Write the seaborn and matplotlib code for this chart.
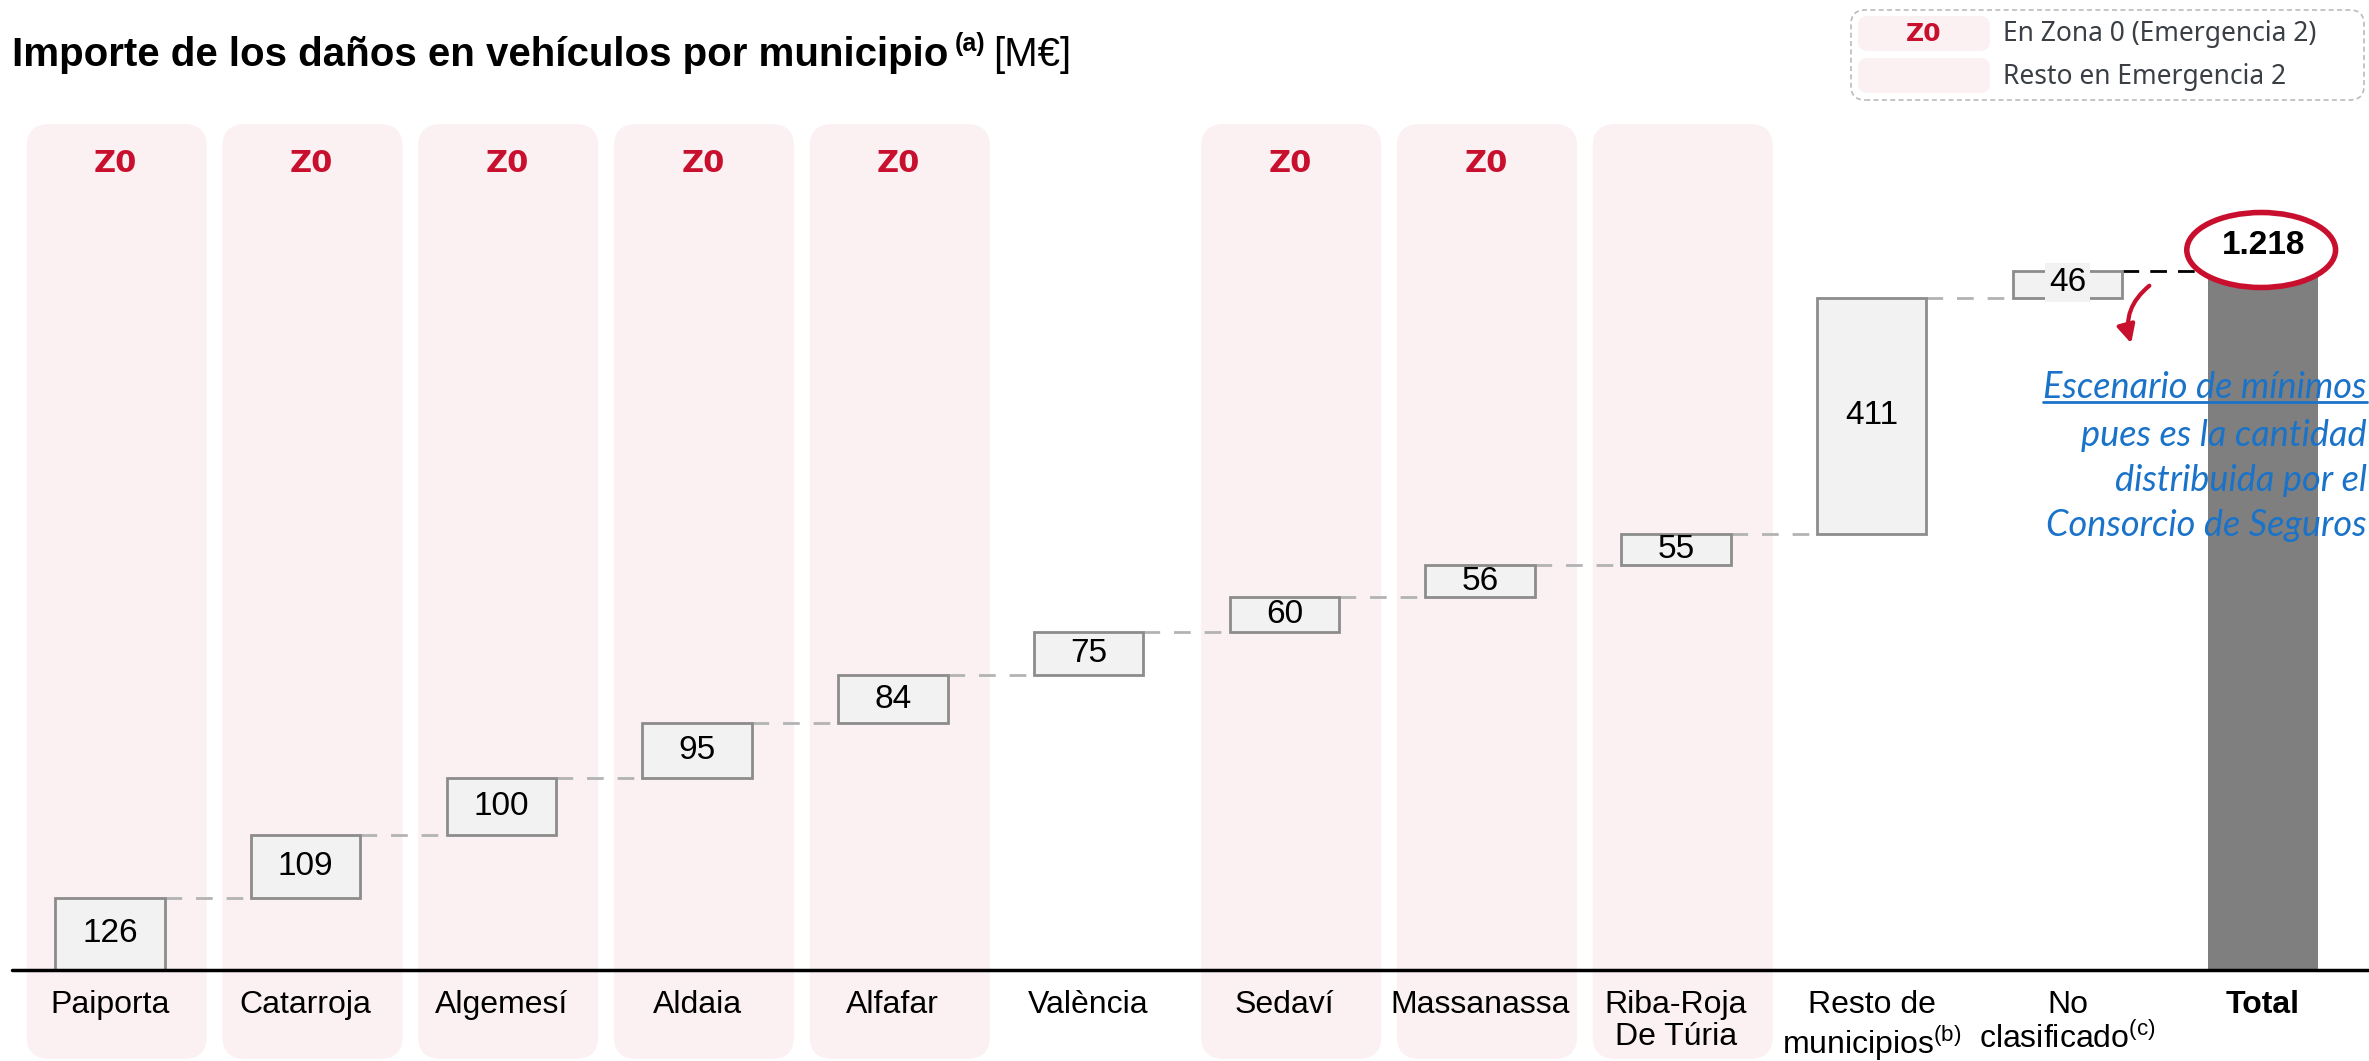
import matplotlib
matplotlib.use("Agg")
import matplotlib.pyplot as plt
import seaborn as sns
import numpy as np
import pandas as pd
from matplotlib import font_manager as fm
from matplotlib.patches import FancyBboxPatch, Ellipse

# --- data ---
categories = ['Paiporta', 'Catarroja', 'Algemesí', 'Aldaia', 'Alfafar', 'València',
              'Sedaví', 'Massanassa', 'Riba-Roja\nDe Túria', 'Resto de\nmunicipios',
              'No\nclasificado', 'Total']
tick_labels = ['Paiporta', 'Catarroja', 'Algemesí', 'Aldaia', 'Alfafar', 'València',
               'Sedaví', 'Massanassa', 'Riba-Roja\nDe Túria',
               'Resto de\nmunicipios$^{\\rm (b)}$', 'No\nclasificado$^{\\rm (c)}$', 'Total']
values = [126, 109, 100, 95, 84, 75, 60, 56, 55, 411, 46]
total = 1218
total_label = '1.218'
zona0 = [1, 1, 1, 1, 1, 0, 1, 1, 0, 0, 0, 0]
emergencia2 = [1, 1, 1, 1, 1, 0, 1, 1, 1, 0, 0, 0]
note_lines = ['Escenario de mínimos', 'pues es la cantidad', 'distribuida por el', 'Consorcio de Seguros']

# --- fonts ---
names = {f.name for f in fm.fontManager.ttflist}
NARROW = 'Liberation Sans Narrow' if 'Liberation Sans Narrow' in names else 'Liberation Sans'
SANS = 'Noto Sans'
BOLDSANS = 'DejaVu Sans'

sns.set_theme(style='white')
plt.rcParams['font.family'] = [NARROW, 'DejaVu Sans']
plt.rcParams['text.color'] = 'black'
plt.rcParams['mathtext.fontset'] = 'custom'
plt.rcParams['mathtext.rm'] = NARROW
plt.rcParams['mathtext.bf'] = NARROW + ':bold'

RED = '#C8102E'
PINK = '#FBF0F2'
BOXFACE = '#F2F2F2'
BOXEDGE = '#8C8C8C'
W, H = 2369, 1061
BASE = 970      # baseline pixel row
ppu = 0.574     # pixels per unit


def yd(py):
    # pixel row -> data y
    return (BASE - py) / ppu


# waterfall geometry
cum = np.cumsum(values)
bottoms = list(np.concatenate([[0], cum[:-1]])) + [0]
heights = values + [total]
df = pd.DataFrame({'cat': categories, 'h': heights, 'b': bottoms})

fig = plt.figure(figsize=(W / 100, H / 100), dpi=100)
ax = fig.add_axes([12 / W, 0, (2361 - 12) / W, 1])
ylim = (yd(H), yd(0))
ry = 22 / ppu / 0.12  # aspect for rounded corners

# background panels
for i, e in enumerate(emergencia2):
    if e:
        p = FancyBboxPatch((i - 0.425, yd(1059)), 0.92, yd(124) - yd(1059),
                           boxstyle='round,pad=0,rounding_size=0.12',
                           mutation_aspect=ry, facecolor=PINK, edgecolor='none',
                           zorder=0, clip_on=False)
        ax.add_patch(p)
    if zona0[i]:
        ax.text(i + 0.03, yd(164), 'Z0', ha='center', va='center', color=RED, fontsize=22,
                fontweight='bold', family=BOLDSANS, zorder=1)

sns.barplot(data=df, x='cat', y='h', bottom=df['b'].values, color=BOXFACE,
            edgecolor=BOXEDGE, linewidth=2, width=0.56, saturation=1,
            errorbar=None, ax=ax, zorder=3)
ax.patches[-1].set_facecolor('#7F7F7F')
ax.patches[-1].set_edgecolor('none')
ax.set_xlim(-0.5, 11.5)
ax.set_ylim(*ylim)

# connectors
for i in range(len(values) - 1):
    ax.plot([i + 0.28, i + 1 - 0.28], [cum[i], cum[i]], color='#B3B3B3', lw=2,
            dashes=(6, 5), zorder=2)
ax.plot([10.28, 10.72], [cum[-1], cum[-1]], color='black', lw=2, dashes=(6, 4), zorder=2)

# value labels
for i, v in enumerate(values):
    y = bottoms[i] + v / 2
    if i == 10:
        ax.text(i, y + 4, str(v), ha='center', va='center', fontsize=24, zorder=4,
                bbox=dict(boxstyle='square,pad=0.12', facecolor=BOXFACE, edgecolor='none'))
    else:
        ax.text(i, y, str(v), ha='center', va='center', fontsize=24, zorder=4)

# total label + ellipse
ax.add_patch(Ellipse((10.99, yd(250)), 0.76, 75 / ppu, facecolor='white', edgecolor=RED,
                     lw=4, zorder=5, clip_on=False))
ax.text(11, yd(246), total_label, ha='center', va='center', fontsize=24,
        fontweight='bold', zorder=6)

# red arrow
ax.annotate('', xy=(10.33, yd(346)), xytext=(10.43, yd(284)),
            arrowprops=dict(arrowstyle='-|>,head_length=0.9,head_width=0.45', color=RED,
                            lw=3, connectionstyle='arc3,rad=0.35'), zorder=6)

# note text
note_x = (2366 - 12) / 195.7 - 0.5
txts = []
for s, py in zip(note_lines, (388, 436, 481, 526)):
    t = ax.text(note_x, yd(py), s, ha='right', va='center', fontsize=26, color='#1A73C8',
                family='Lato', style='italic', zorder=6, clip_on=False)
    txts.append(t)

# baseline
ax.plot([-0.5, 11.54], [0, 0], color='black', lw=2.5, zorder=4, clip_on=False)

# category labels
ax.set_xticks([])
ax.set_yticks([])
for i, lab in enumerate(tick_labels):
    ax.text(i, yd(990), lab, ha='center', va='top',
            fontsize=23, linespacing=1.1,
            fontweight='bold' if lab == 'Total' else 'normal')
sns.despine(ax=ax, left=True, bottom=True)
ax.set_xlabel('')
ax.set_ylabel('')

# title
fig.canvas.draw()
r = fig.canvas.get_renderer()
t1 = fig.text(12 / W, 1 - 55 / H, 'Importe de los daños en vehículos por municipio',
              fontsize=29, fontweight='bold', va='center', ha='left')
bb = t1.get_window_extent(r)
t2 = fig.text((bb.x1 + 6) / W, 1 - 44 / H, '(a)', fontsize=18, fontweight='bold',
              va='center', ha='left')
bb2 = t2.get_window_extent(r)
fig.text((bb2.x1 + 8) / W, 1 - 55 / H, '[M€]', fontsize=29, va='center', ha='left')

# underline first note line
bbn = txts[0].get_window_extent(r)
inv = ax.transData.inverted()
(ux0, uy0), (ux1, _) = inv.transform([(bbn.x0, bbn.y0 + 2), (bbn.x1, bbn.y0)])
ax.plot([ux0, ux1], [uy0, uy0], color='#1A73C8', lw=2, zorder=6, clip_on=False)

# legend
fig.patches.append(FancyBboxPatch((1851 / W, 1 - 100 / H), 513 / W, 90 / H,
                                  boxstyle='round,pad=0,rounding_size=0.006',
                                  mutation_aspect=W / H, transform=fig.transFigure,
                                  facecolor='white', edgecolor='#BBBBBB', lw=1.2,
                                  linestyle=(0, (3, 2)), figure=fig))
for py0 in (16, 58):
    fig.patches.append(FancyBboxPatch((1858 / W, 1 - (py0 + 35) / H), 132 / W, 35 / H,
                                      boxstyle='round,pad=0,rounding_size=0.004',
                                      mutation_aspect=W / H, transform=fig.transFigure,
                                      facecolor=PINK, edgecolor='none', figure=fig))
fig.text(1924 / W, 1 - 34 / H, 'Z0', color=RED, fontsize=18, fontweight='bold',
         family=BOLDSANS, ha='center', va='center')
fig.text(2003 / W, 1 - 34 / H, 'En Zona 0 (Emergencia 2)', color='#3A3F45', fontsize=19,
         family=SANS, ha='left', va='center')
fig.text(2003 / W, 1 - 77 / H, 'Resto en Emergencia 2', color='#3A3F45', fontsize=19,
         family=SANS, ha='left', va='center')

fig.savefig('out.png', dpi=100)
